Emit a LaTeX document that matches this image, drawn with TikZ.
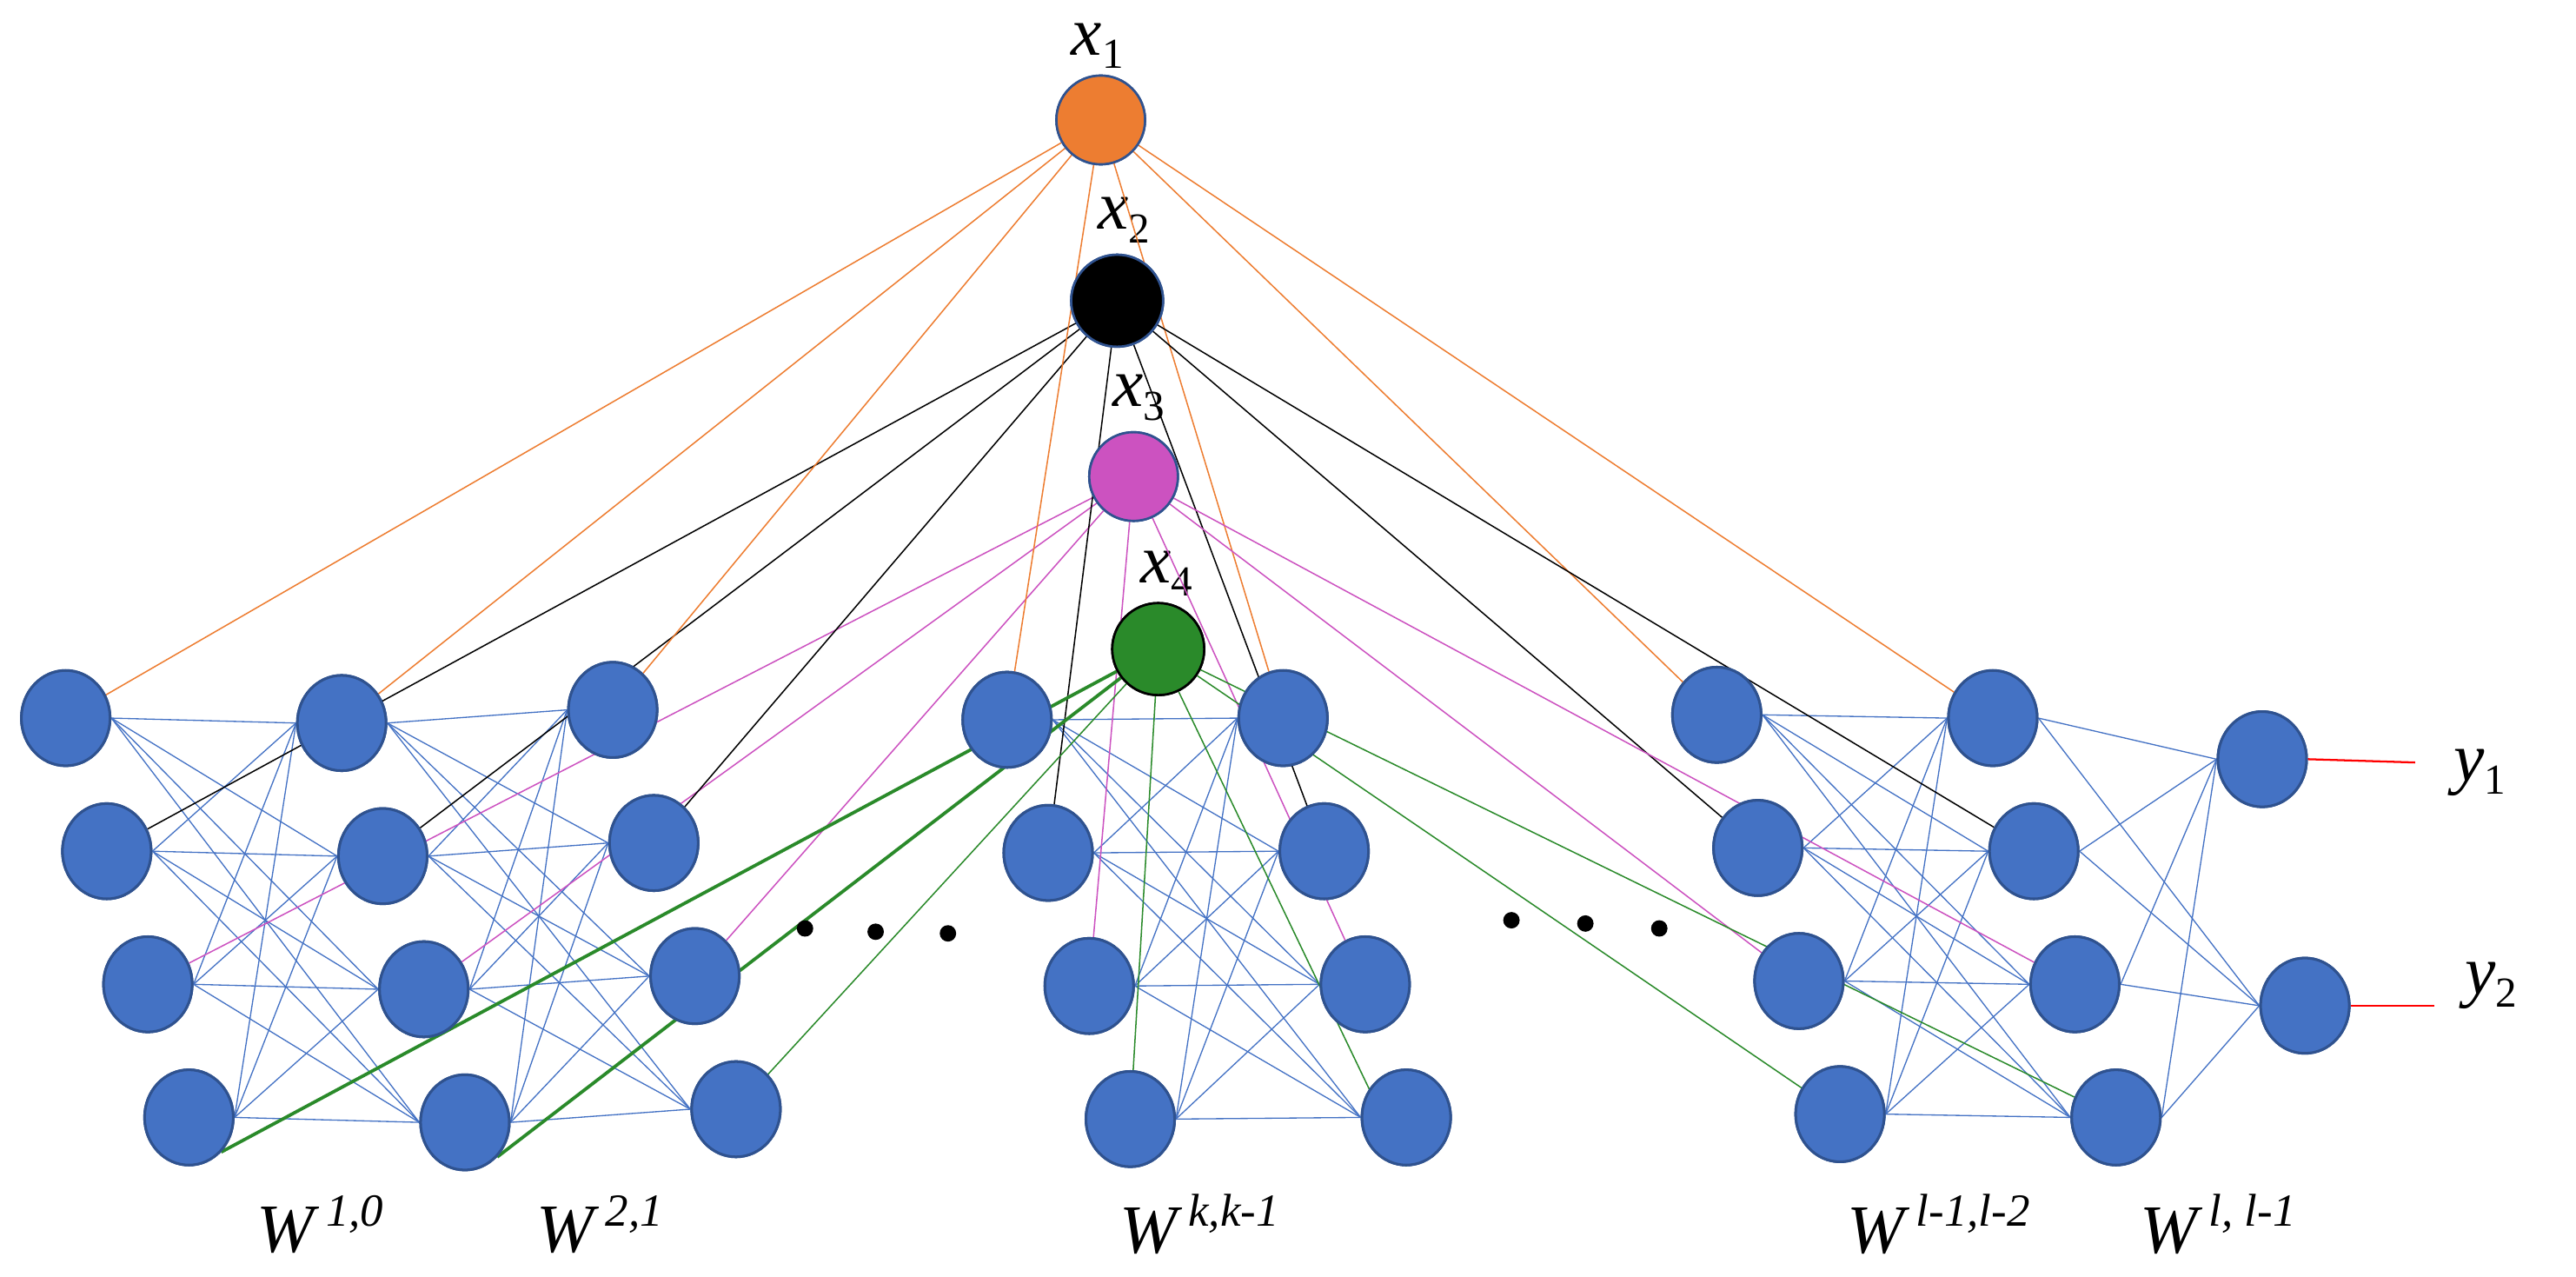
\documentclass[tikz,border=0pt]{standalone}
\usepackage{fontspec}
\setmainfont{Liberation Serif}
\usetikzlibrary{shapes.geometric}
\definecolor{nfill}{HTML}{4472C4}
\definecolor{nedge}{HTML}{2F528F}
\definecolor{orng}{HTML}{ED7D31}
\definecolor{mag}{HTML}{CC52C0}
\definecolor{grn}{HTML}{2A8A2A}
\newcommand{\wsup}[1]{\,\raisebox{16pt}{\fontsize{28}{30}\selectfont\itshape #1}}
\newcommand{\vsub}[2]{{\itshape #1}\raisebox{-8pt}{\fontsize{26}{28}\selectfont #2}}
\begin{document}
\begin{tikzpicture}[x=1pt,y=-1pt,
  neuron/.style={ellipse,minimum width=54pt,minimum height=58pt,inner sep=0pt,fill=nfill,draw=nedge,line width=1.6pt},
  inp/.style={circle,minimum size=54pt,inner sep=0pt,draw=nedge,line width=1.4pt},
  wire/.style={draw=nfill,line width=0.7pt},
  lab/.style={font=\fontsize{42}{46}\selectfont},
  wlab/.style={font=\fontsize{42}{46}\selectfont\itshape},
  dot/.style={circle,fill=black,minimum size=10pt,inner sep=0pt}]
\useasboundingbox (0,0) rectangle (1568,777);
\foreach \c/\x/\y in {A/40/437,B/208/440,C/373/432,D/613/438,E/781/437,F/1045/435,G/1213/437}{
  \foreach \j in {1,2,3,4}{
    \node[neuron] (\c\j) at ({\x+25*(\j-1)},{\y+81*(\j-1)}) {};
  }
}
\node[neuron] (H1) at (1377,462) {};
\node[neuron] (H2) at (1403,612) {};
\node[inp,fill=orng] (x1) at (670,73) {};
\node[inp,fill=black,minimum size=56pt] (x2) at (680,183) {};
\node[inp,fill=mag] (x3) at (690,290) {};
\node[inp,fill=grn,draw=black,minimum size=56pt] (x4) at (705,395) {};
\node[lab] (lx1) at (668,28) {\vsub{x}{1}};
\node[lab] (lx2) at (684,134) {\vsub{x}{2}};
\node[lab] (lx3) at (693,242) {\vsub{x}{3}};
\node[lab] (lx4) at (710,349) {\vsub{x}{4}};
\foreach \l/\r in {A/B,B/C,D/E,F/G}{
  \foreach \i in {1,...,4}{\foreach \j in {1,...,4}{
    \draw[wire] (\l\i.east) -- (\r\j.west);
  }}
}
\foreach \i in {1,...,4}{\foreach \j in {1,2}{\draw[wire] (G\i.east) -- (H\j.west);}}
\foreach \c in {A,B,C,D,E,F,G}{
  \draw[orng,line width=0.8pt] (x1) -- (\c1);
  \draw[black,line width=0.8pt] (x2) -- (\c2);
  \draw[mag,line width=0.8pt] (x3) -- (\c3);
}
\draw[grn,line width=2pt] (x4) -- (A4.south east);
\draw[grn,line width=2pt] (x4) -- (B4.south east);
\foreach \c in {C,D,F,G}{\draw[grn,line width=0.8pt] (x4) -- (\c4);}
\draw[grn,line width=0.8pt] (x4) -- (E4.south);
\foreach \c in {A,B,C,D,E,F,G}{\foreach \j in {1,...,4}{
  \path (\c\j) node[neuron] {};}}
\path (H1) node[neuron] {}; \path (H2) node[neuron] {};
\path (x1) node[inp,fill=orng] {};
\path (x2) node[inp,fill=black,minimum size=56pt] {};
\path (x3) node[inp,fill=mag] {};
\path (x4) node[inp,fill=grn,draw=black,minimum size=56pt] {};
\coordinate (o1) at (1470,464);
\coordinate (o2) at (1482,612);
\draw[red,line width=1.2pt] (H1.east) -- (o1);
\draw[red,line width=1.2pt] (H2.east) -- (o2);
\node[lab,anchor=west] (y1) at (1490,470) {\vsub{y}{1}};
\node[lab,anchor=west] (y2) at (1497,600) {\vsub{y}{2}};
\foreach \x/\y [count=\k] in {490/565,533/567,577/568,920/560,965/562,1010/565}{\node[dot] (d\k) at (\x,\y) {};}
\node[wlab] (w1) at (195,745) {W\wsup{1,0}};
\node[wlab] (w2) at (365,745) {W\wsup{2,1}};
\node[wlab] (w3) at (730,745) {W\wsup{k,k-1}};
\node[wlab] (w4) at (1180,745) {W\wsup{l-1,l-2}};
\node[wlab] (w5) at (1350,745) {W\wsup{l, l-1}};
\end{tikzpicture}
\end{document}
